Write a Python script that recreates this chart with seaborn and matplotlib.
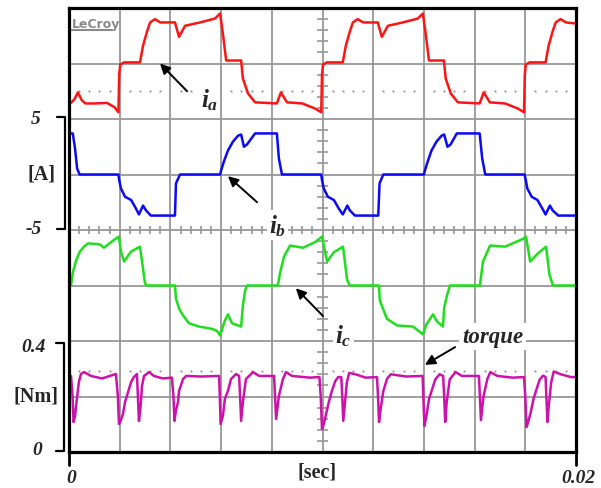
import numpy as np
import pandas as pd
import matplotlib.pyplot as plt
import seaborn as sns
from matplotlib.lines import Line2D

# ---- waveform breakpoints: (time [ms], value) ----
ia_pts = [(0.0, -3.7), (0.1, -3.5), (0.22, -3.2), (0.35, -2.6), (0.5, -3.3), (0.65, -3.6),
          (1.0, -3.6), (1.5, -3.55), (1.8, -3.95), (1.95, -4.4),
          (1.98, -1.0), (2.02, -0.1), (2.17, 0.1), (2.8, 0.1), (2.92, 1.6), (3.08, 2.9), (3.2, 3.7),
          (3.39, 4.0), (3.6, 3.7), (4.18, 3.7), (4.34, 2.4), (4.58, 3.4), (5.17, 3.7), (5.76, 4.05),
          (5.96, 4.5), (6.07, 2.7), (6.2, 0.27), (6.79, 0.27), (6.86, -1.35), (7.06, -2.7),
          (7.34, -3.5), (8.2, -3.6), (8.36, -2.6), (8.6, -3.5), (9.2, -3.6), (9.7, -4.05), (9.95, -4.4),
          (9.98, -1.0), (10.02, -0.1), (10.17, 0.1), (10.8, 0.1), (10.92, 1.6), (11.08, 2.9),
          (11.2, 3.7), (11.39, 4.0), (11.6, 3.7), (12.18, 3.7), (12.34, 2.4), (12.58, 3.4),
          (13.17, 3.7), (13.76, 4.05), (13.96, 4.5), (14.07, 2.7), (14.2, 0.27), (14.79, 0.27),
          (14.86, -1.35), (15.06, -2.7), (15.34, -3.5), (16.2, -3.6), (16.36, -2.6), (16.6, -3.5),
          (17.2, -3.6), (17.7, -4.05), (17.95, -4.4),
          (17.98, -1.0), (18.02, -0.1), (18.17, 0.1), (18.8, 0.1), (18.92, 1.6), (19.08, 2.9),
          (19.2, 3.7), (19.39, 4.0), (19.6, 3.7), (20.0, 3.6)]

ib_pts = [(0.0, 3.7), (0.15, 3.7), (0.24, 2.3), (0.32, 0.54), (0.42, 0.0), (1.95, 0.0),
          (1.98, -0.5), (2.05, -1.26), (2.21, -2.0), (2.45, -2.3), (2.64, -3.06), (2.76, -3.6),
          (2.92, -2.8), (3.04, -3.24), (3.23, -3.7), (4.18, -3.7), (4.22, -0.8), (4.38, 0.0),
          (5.96, 0.0), (6.0, 0.36), (6.11, 1.17), (6.27, 2.16), (6.47, 2.97), (6.67, 3.5),
          (6.79, 3.6), (6.9, 2.5), (7.02, 2.7), (7.34, 3.7), (8.2, 3.7), (8.28, 1.44), (8.4, 0.0),
          (9.95, 0.0),
          (9.98, -0.5), (10.05, -1.26), (10.21, -2.0), (10.45, -2.3), (10.64, -3.06), (10.8, -3.6),
          (10.98, -2.8), (11.08, -3.24), (11.28, -3.7), (12.2, -3.7), (12.25, -0.8), (12.4, 0.0),
          (14.0, 0.0), (14.04, 0.36), (14.15, 1.17), (14.3, 2.16), (14.5, 2.97), (14.7, 3.5),
          (14.8, 3.6), (14.93, 2.5), (15.05, 2.7), (15.3, 3.7), (16.2, 3.7), (16.3, 1.44),
          (16.42, 0.0), (17.97, 0.0),
          (18.02, -0.5), (18.08, -1.26), (18.25, -2.0), (18.48, -2.3), (18.67, -3.06), (18.8, -3.6),
          (18.97, -2.8), (19.08, -3.24), (19.3, -3.7), (20.0, -3.7)]

ic_pts = [(0.0, 0.0), (0.08, 0.0), (0.16, 1.26), (0.28, 2.25), (0.43, 3.06), (0.59, 3.5),
          (0.75, 3.8), (1.22, 3.7), (1.38, 3.4), (1.74, 4.05), (1.97, 4.4), (2.05, 3.06),
          (2.17, 2.16), (2.45, 3.06), (2.8, 3.5), (2.88, 2.16), (3.0, 0.18), (3.08, 0.0),
          (4.18, 0.0), (4.22, -1.17), (4.34, -2.07), (4.5, -2.7), (4.73, -3.4), (5.13, -3.7),
          (5.64, -3.9), (5.84, -4.1), (5.96, -4.5), (6.15, -3.15), (6.27, -2.6), (6.43, -3.4),
          (6.79, -3.7), (6.86, -1.8), (6.94, -0.54), (7.02, 0.0), (8.24, 0.0), (8.32, 1.08),
          (8.48, 2.6), (8.72, 3.6), (9.23, 3.4), (9.7, 3.9), (9.98, 4.4),
          (10.18, 2.16), (10.45, 3.0), (10.81, 3.5), (10.97, 0.5), (11.08, 0.0), (12.23, 0.0),
          (12.26, -1.35), (12.54, -3.0), (12.94, -3.6), (13.57, -3.7), (13.96, -4.4), (14.1, -3.5),
          (14.36, -2.6), (14.5, -3.2), (14.75, -3.7), (14.8, -2.0), (14.91, -0.9), (15.03, 0.0),
          (16.21, 0.0), (16.33, 2.16), (16.61, 3.6), (17.2, 3.5), (17.91, 4.2), (18.03, 4.4),
          (18.19, 2.16), (18.5, 2.9), (18.82, 3.5), (18.95, 1.0), (19.09, 0.0), (20.0, 0.0)]

torque_pts = [(0.0, 0.274), (0.08, 0.274), (0.14, 0.2), (0.18, 0.108), (0.24, 0.13), (0.28, 0.166),
              (0.32, 0.198), (0.39, 0.252), (0.47, 0.281), (0.59, 0.288), (0.87, 0.274),
              (1.3, 0.265), (1.85, 0.281),
              (1.93, 0.2), (1.97, 0.101), (2.03, 0.11), (2.13, 0.137), (2.21, 0.18), (2.33, 0.216),
              (2.45, 0.252), (2.56, 0.27), (2.68, 0.281), (2.72, 0.2), (2.76, 0.112), (2.82, 0.16),
              (2.88, 0.238), (2.96, 0.274), (3.16, 0.288), (3.35, 0.274), (3.7, 0.265), (4.06, 0.268),
              (4.12, 0.2), (4.16, 0.112), (4.22, 0.15), (4.3, 0.18), (4.34, 0.22), (4.5, 0.263),
              (4.62, 0.274), (5.2, 0.272), (5.92, 0.274), (5.95, 0.2), (5.98, 0.101), (6.07, 0.13),
              (6.15, 0.191), (6.27, 0.22), (6.39, 0.263), (6.59, 0.281), (6.71, 0.274), (6.75, 0.2),
              (6.79, 0.112), (6.86, 0.18), (6.98, 0.263), (7.26, 0.288), (7.5, 0.274), (8.09, 0.274),
              (8.13, 0.2), (8.17, 0.119), (8.28, 0.202), (8.44, 0.263), (8.56, 0.288), (8.8, 0.274),
              (9.5, 0.268), (9.88, 0.27),
              (9.93, 0.2), (9.98, 0.083), (10.05, 0.1), (10.15, 0.14), (10.25, 0.18), (10.37, 0.22),
              (10.5, 0.255), (10.62, 0.27), (10.74, 0.27), (10.78, 0.2), (10.82, 0.112), (10.88, 0.17),
              (10.96, 0.25), (11.05, 0.285), (11.3, 0.28), (11.7, 0.268), (12.15, 0.27), (12.19, 0.2),
              (12.23, 0.108), (12.3, 0.16), (12.4, 0.22), (12.55, 0.265), (12.7, 0.28), (13.3, 0.272),
              (13.95, 0.274), (13.98, 0.2), (14.02, 0.094), (14.1, 0.13), (14.2, 0.19), (14.32, 0.225),
              (14.45, 0.262), (14.62, 0.28), (14.76, 0.274), (14.8, 0.2), (14.84, 0.108), (14.9, 0.18),
              (15.02, 0.262), (15.25, 0.288), (15.5, 0.274), (16.17, 0.274), (16.21, 0.2),
              (16.25, 0.115), (16.35, 0.2), (16.5, 0.262), (16.62, 0.288), (16.9, 0.274), (17.5, 0.268),
              (17.95, 0.27),
              (18.0, 0.2), (18.05, 0.09), (18.12, 0.11), (18.22, 0.145), (18.32, 0.19), (18.44, 0.225),
              (18.56, 0.26), (18.7, 0.275), (18.8, 0.27), (18.83, 0.2), (18.87, 0.108), (18.93, 0.17),
              (19.02, 0.25), (19.12, 0.29), (19.4, 0.28), (19.8, 0.27), (20.0, 0.27)]

# scope channel setup: (points, zero position in divisions, units per division, colour)
channels = {
    'ia': (ia_pts, 7, 5.0, '#ff1414'),
    'ib': (ib_pts, 5, 5.0, '#0a0af5'),
    'ic': (ic_pts, 3, 5.0, '#1ede1e'),
    'torque': (torque_pts, 0, 0.2, '#cc12aa'),
}

rows = []
for name, (pts, zero, per_div, _) in channels.items():
    for t, v in pts:
        rows.append({'t': t, 'div': zero + v / per_div, 'trace': name})
df = pd.DataFrame(rows)

sns.set_style('white')
plt.rcParams['font.family'] = ['Liberation Serif', 'DejaVu Serif']
plt.rcParams['mathtext.fontset'] = 'custom'
plt.rcParams['mathtext.it'] = 'Liberation Serif:italic:bold'
plt.rcParams['mathtext.rm'] = 'Liberation Serif:bold'

W, H = 601, 489
fig = plt.figure(figsize=(W / 100, H / 100), dpi=100)
ax = fig.add_axes([69 / W, 1 - 453 / H, 507 / W, 444 / H])

# graticule
grid_c = '#979797'
ax.set_xlim(0, 20)
ax.set_ylim(0, 8)
ax.set_xticks(np.arange(0, 21, 2))
ax.set_yticks(np.arange(0, 9, 1))
ax.tick_params(length=0, labelbottom=False, labelleft=False)
ax.grid(True, color=grid_c, lw=1.3)
ax.set_axisbelow(True)
minor_x = [x for x in np.arange(0, 20.01, 0.4) if abs(x / 2 - round(x / 2)) > 1e-6]
minor_y = [y for y in np.arange(0, 8.01, 0.2) if abs(y - round(y)) > 1e-6]
ax.vlines(minor_x, 4 - 0.065, 4 + 0.065, color=grid_c, lw=1.2, zorder=1)
ax.hlines(minor_y, 10 - 0.2, 10 + 0.2, color=grid_c, lw=1.2, zorder=1)
# trigger level dots
for lvl in (6.5, 1.465):
    ax.plot(minor_x, [lvl] * len(minor_x), ls='none', marker='s', ms=1.3,
            color='#8a8a8a', mec='none', zorder=1)

for sp in ax.spines.values():
    sp.set_linewidth(2.3)
    sp.set_color('black')

palette = {k: v[3] for k, v in channels.items()}
sns.lineplot(data=df, x='t', y='div', hue='trace', palette=palette, estimator=None,
             sort=False, legend=False, linewidth=1.8, ax=ax, zorder=2)
ax.set_xlabel('')
ax.set_ylabel('')

# scope logo
ax.text(0.12, 7.72, 'LeCroy', fontsize=9, fontweight='bold', color='#8a8a8a',
        family='DejaVu Sans', ha='left', va='center')
ax.plot([0.08, 1.7], [7.6, 7.6], color='#8a8a8a', lw=1.5)

# labels with arrows
lab = dict(fontsize=18, ha='left', va='baseline', zorder=4,
           bbox=dict(facecolor='white', edgecolor='none', pad=1.5))
ax.text(5.2, 6.22, r'$i_a$', **lab)
ax.text(7.9, 3.96, r'$i_b$', **lab)
ax.text(10.5, 1.98, r'$i_c$', **lab)
ax.text(15.5, 1.98, 'torque', fontsize=16.5, fontweight='bold', fontstyle='italic',
        ha='left', va='baseline', zorder=4,
        bbox=dict(facecolor='white', edgecolor='none', pad=2))
arrow = dict(arrowstyle='-|>', color='black', lw=1.4, mutation_scale=15, shrinkA=0, shrinkB=0)
for head, tail in [((3.59, 7.0), (4.66, 6.5)), ((6.27, 4.97), (7.42, 4.5)),
                   ((8.95, 2.95), (10.02, 2.45)), ((14.04, 1.57), (15.23, 1.89))]:
    ax.annotate('', xy=head, xytext=tail, arrowprops=arrow, zorder=5)


def fx(px):
    return px / W


def fy(py):
    return 1 - py / H


num = dict(fontweight='bold', fontstyle='italic', ha='center', va='center')
fig.text(fx(36), fy(120), '5', fontsize=14, **num)
fig.text(fx(34), fy(230), '-5', fontsize=14, **num)
fig.text(fx(34), fy(348), '0.4', fontsize=14, **num)
fig.text(fx(37), fy(451), '0', fontsize=14, **num)
fig.text(fx(71), fy(479), '0', fontsize=14, **num)
fig.text(fx(578), fy(479), '0.02', fontsize=14, **num)
unit = dict(fontsize=14.5, fontweight='bold', ha='center', va='center')
fig.text(fx(42), fy(175), '[A]', **unit)
fig.text(fx(36), fy(397), '[Nm]', **unit)
fig.text(fx(317), fy(472), '[sec]', **unit)

# range brackets and time ticks
for top, bot, xl, xr in [(118, 230, 57, 65), (344, 452, 56, 64)]:
    fig.add_artist(Line2D([fx(xl), fx(xr), fx(xr), fx(xl)], [fy(top), fy(top), fy(bot), fy(bot)],
                          color='black', lw=1.6))
for xp in (69, 576):
    fig.add_artist(Line2D([fx(xp), fx(xp)], [fy(455), fy(466)], color='black', lw=2))

fig.savefig('out.png', dpi=100)
